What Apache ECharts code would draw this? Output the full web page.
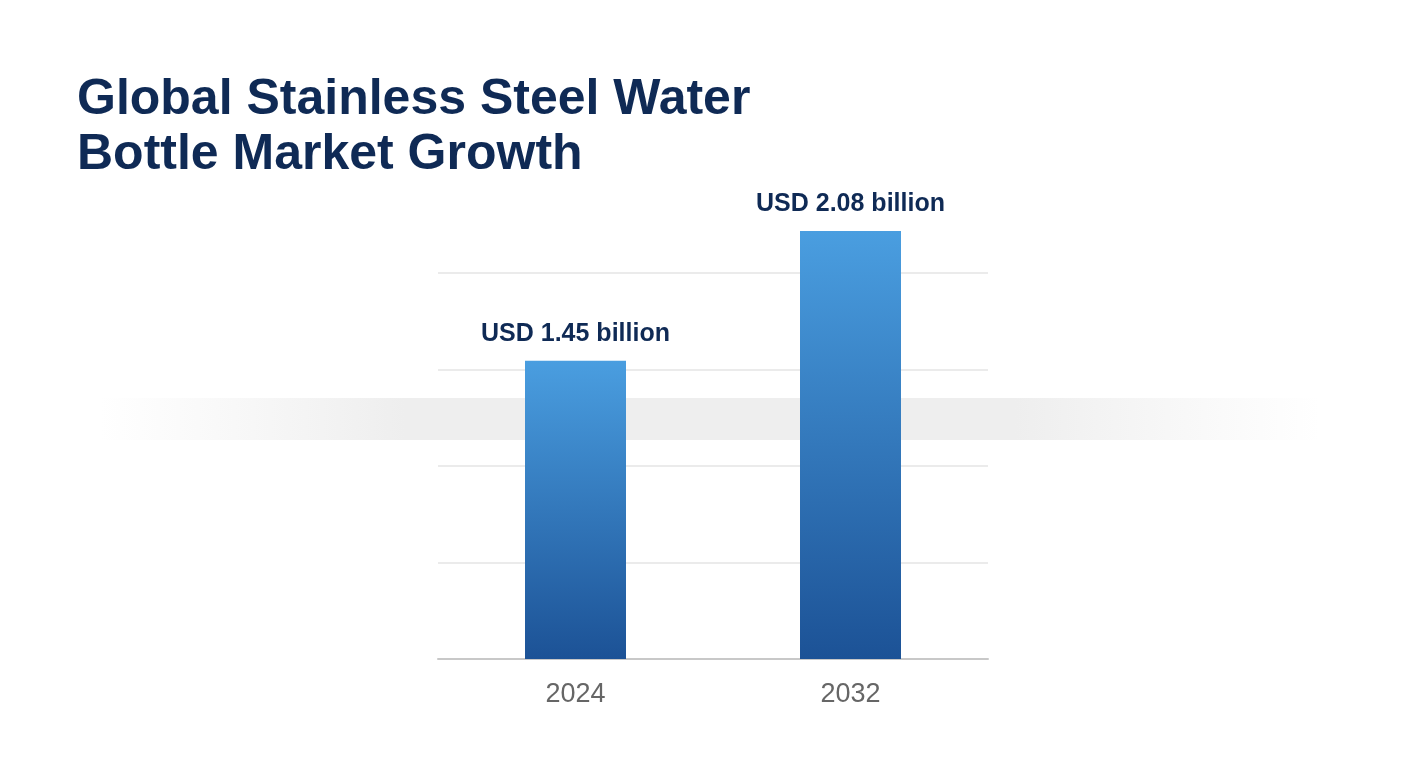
<!DOCTYPE html>
<html>
<head>
<meta charset="utf-8">
<title>Stainless Steel Water Bottle Market</title>
<style>
body{margin:0;padding:0;background:#fff;}
#main{width:1408px;height:768px;}
</style>
</head>
<body>
<div id="main"></div>
<script src="https://cdn.jsdelivr.net/npm/echarts@6/dist/echarts.min.js"></script>
<script>
var years = ['2024', '2032'];
var values = [1.45, 2.08];
var labels = ['USD 1.45 billion', 'USD 2.08 billion'];

var myChart = echarts.init(document.getElementById('main'));
var option = {
  backgroundColor: '#fff',
  title: {
    text: 'Global Stainless Steel Water\nBottle Market Growth',
    left: 72, top: 68,
    textStyle: {fontFamily: '"Liberation Sans", Arial, sans-serif', fontSize: 50, fontWeight: 'bold', color: '#0f2a55', lineHeight: 55}
  },
  graphic: [{
    type: 'rect', z: -1, silent: true,
    shape: {x: 100, y: 398, width: 1220, height: 42},
    style: {fill: new echarts.graphic.LinearGradient(0, 0, 1, 0, [
      {offset: 0, color: 'rgba(240,240,240,0)'},
      {offset: 0.25, color: 'rgba(238,238,238,1)'},
      {offset: 0.75, color: 'rgba(238,238,238,1)'},
      {offset: 1, color: 'rgba(240,240,240,0)'}
    ])}
  }],
  grid: {left: 438, right: 420, top: 273, bottom: 109},
  xAxis: {
    type: 'category', data: years,
    axisLine: {lineStyle: {color: '#c8c8c8', width: 2}},
    axisTick: {show: false},
    axisLabel: {color: '#666', fontSize: 27, margin: 22, fontFamily: '"Liberation Sans", Arial, sans-serif'}
  },
  yAxis: {
    type: 'value', min: 0, max: 1.876, interval: 0.469,
    axisLabel: {show: false}, axisLine: {show: false}, axisTick: {show: false},
    splitLine: {lineStyle: {color: '#e4e4e4', width: 1.5}}
  },
  series: [{
    type: 'bar', data: values, barWidth: 101, clip: false,
    itemStyle: {color: new echarts.graphic.LinearGradient(0, 0, 0, 1, [
      {offset: 0, color: '#4a9ee0'},
      {offset: 1, color: '#1c5296'}
    ])},
    label: {
      show: true, position: 'top', distance: 14,
      formatter: function (p) { return labels[p.dataIndex]; },
      color: '#0f2a55', fontSize: 25, fontWeight: 'bold', fontFamily: '"Liberation Sans", Arial, sans-serif'
    }
  }]
};
myChart.setOption(option);
</script>
</body>
</html>
